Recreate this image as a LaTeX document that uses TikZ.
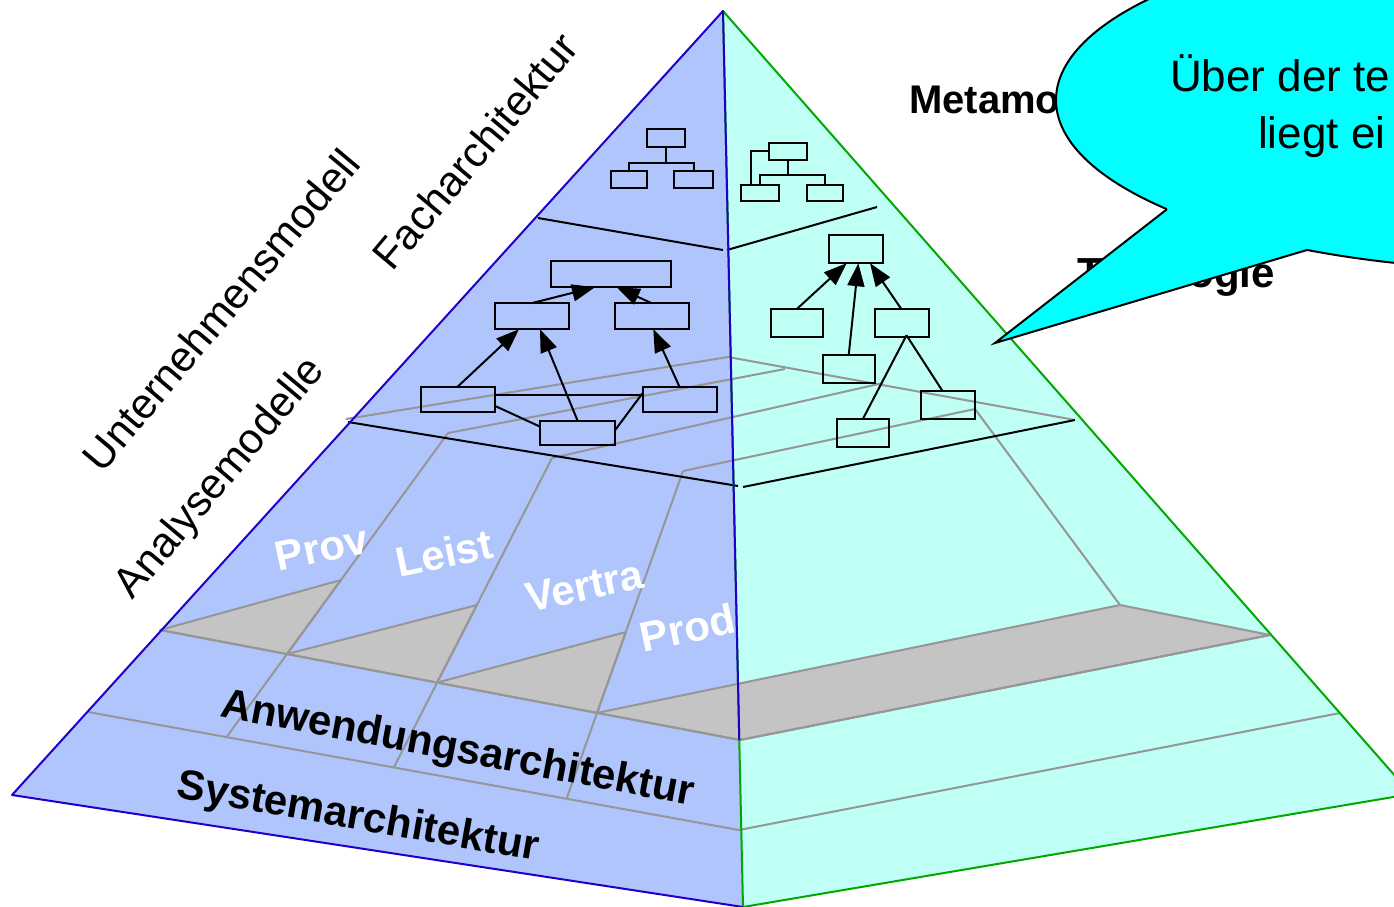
\documentclass[tikz,border=0pt]{standalone}
\usepackage{fontspec}
\setmainfont{Liberation Sans}
\usetikzlibrary{arrows.meta,calc}
\definecolor{leftface}{RGB}{176,197,252}
\definecolor{rightface}{RGB}{191,255,246}
\definecolor{edgeblue}{RGB}{32,0,200}
\definecolor{edgegreen}{RGB}{0,168,0}
\definecolor{layergray}{RGB}{150,150,150}
\definecolor{slabgray}{RGB}{196,196,196}
\definecolor{callcyan}{RGB}{0,255,255}
\tikzset{
  box/.style={draw=black,line width=2pt,inner sep=0pt,outer sep=0pt},
  arr/.style={line width=2pt,-{Triangle[length=23pt,width=17pt]}},
  plain/.style={line width=2pt},
  grayline/.style={draw=layergray,line width=2pt},
  blackline/.style={draw=black,line width=2pt},
  slab/.style={fill=slabgray,draw=layergray,line width=2pt,line join=round},
  sidelabel/.style={font=\fontsize{42.5}{50}\selectfont,inner sep=0pt,rotate=50},
  boldlabel/.style={font=\bfseries\fontsize{42}{48}\selectfont,inner sep=0pt},
  collabel/.style={font=\bfseries\fontsize{42}{48}\selectfont,text=white,inner sep=0pt,rotate=12,anchor=base},
  calltext/.style={font=\fontsize{44}{50}\selectfont,inner sep=0pt,anchor=base west},
}
\begin{document}
\begin{tikzpicture}[x=1pt,y=-1pt]
\useasboundingbox (0,0) rectangle (1394,907);
\clip (0,0) rectangle (1394,907);
\fill[white] (0,0) rectangle (1394,907);
% pyramid corners
\coordinate (T) at (723,11);
\coordinate (L) at (12,795);
\coordinate (M) at (743,907);
\coordinate (R) at (1411,794);
\fill[leftface] (T) -- (L) -- (M) -- cycle;
\fill[rightface] (T) -- (M) -- (R) -- cycle;
% Anwendungs slab tops
\filldraw[slab] (160,630) -- (341,580) -- (287,654) -- cycle;
\filldraw[slab] (287,654) -- (477,605) -- (437,682.6) -- cycle;
\filldraw[slab] (437,682.6) -- (626,632) -- (597,712.9) -- cycle;
\filldraw[slab] (597,712.9) -- (1120,605) -- (1270,635) -- (740,740) -- cycle;
% analysis plane and columns
\draw[grayline] (346,419) -- (728,357) -- (1075,420);
\draw[grayline] (448,433) -- (785,369);
\draw[grayline] (552,458) -- (883,383);
\draw[grayline] (683,471) -- (975,409) -- (1120,605);
\draw[grayline] (448,433) -- (226.4,737.2);
\draw[grayline] (552,458) -- (393.8,767.4);
\draw[grayline] (683,471) -- (566.5,798.8);
\draw[grayline] (160,630) -- (740,740) -- (1270,635);
\draw[grayline] (88,712) -- (739,830) -- (1340,713);
% black layer lines
\draw[blackline] (538,218) -- (723,250);
\draw[blackline] (727,250) -- (877,207);
\draw[blackline] (348,422) -- (738,486);
\draw[blackline] (743,487) -- (1075,420);
% edges
\draw[edgegreen,line width=2pt,line join=round] (T) -- (R) -- (M) -- cycle;
\draw[edgeblue,line width=2pt,line join=round] (M) -- (L) -- (T) -- ($(T)!0.8136!(M)$);
% Facharchitektur diagrams
\node[box,minimum width=38pt,minimum height=18pt] (fl0) at (666,138) {};
\node[box,minimum width=36pt,minimum height=17pt] (fl1) at (628.5,179) {};
\node[box,minimum width=39pt,minimum height=17pt] (fl2) at (693.7,179) {};
\coordinate (flj) at (666,162.7);
\draw[plain] (fl0.south) -- (flj);
\draw[plain] (fl1.north) |- (flj) -| (fl2.north);
\node[box,minimum width=38pt,minimum height=17pt] (fr0) at (787.5,151) {};
\node[box,minimum width=38pt,minimum height=16pt] (fr1) at (760,193) {};
\node[box,minimum width=36pt,minimum height=16pt] (fr2) at (824.7,193) {};
\coordinate (frj) at (787.5,175);
\draw[plain] (fr0.south) -- (frj);
\draw[plain] (fr1.north) |- (frj) -| (fr2.north);
\draw[plain] (fr0.west) -| ($(fr1.north west)+(10,0)$);
% Analysemodelle left diagram
\node[box,minimum width=120pt,minimum height=26pt] (a0) at (610.7,274.2) {};
\node[box,minimum width=74pt,minimum height=26pt] (a1) at (531.5,316.2) {};
\node[box,minimum width=74pt,minimum height=26pt] (a2) at (651.7,316.2) {};
\node[box,minimum width=74pt,minimum height=25pt] (a3) at (457.5,399.3) {};
\node[box,minimum width=74pt,minimum height=25pt] (a4) at (679.5,399.3) {};
\node[box,minimum width=75pt,minimum height=24pt] (a5) at (577.7,433) {};
\draw[arr] (a1.north) -- ($(a0.south)+(-15.7,0)$);
\draw[arr] (a2.north) -- ($(a0.south)+(6,0)$);
\draw[arr] (a3.north) -- ($(a1.south)+(-12.5,0)$);
\draw[arr] (a5.north) -- ($(a1.south)+(8.5,0)$);
\draw[arr] (a4.north) -- ($(a2.south)+(1.6,0)$);
\draw[plain] ($(a3.east)+(0,-4)$) -- ($(a4.west)+(0,-4)$);
\draw[plain] ($(a3.east)+(0,6.4)$) -- ($(a5.west)+(0,-6.3)$);
\draw[plain] ($(a5.east)+(0,-3)$) -- ($(a4.west)+(0,-6)$);
% Analysemodelle right diagram
\node[box,minimum width=54pt,minimum height=28pt] (b0) at (855.5,249.2) {};
\node[box,minimum width=52pt,minimum height=28pt] (b1) at (796.5,323.3) {};
\node[box,minimum width=54pt,minimum height=28pt] (b2) at (901.5,323.3) {};
\node[box,minimum width=52pt,minimum height=28pt] (b3) at (848.7,369.2) {};
\node[box,minimum width=52pt,minimum height=28pt] (b4) at (862.7,433.3) {};
\node[box,minimum width=54pt,minimum height=28pt] (b5) at (947.7,405.3) {};
\draw[arr] (b1.north) -- ($(b0.south)+(-8.8,0)$);
\draw[arr] (b3.north) -- ($(b0.south)+(2.8,0)$);
\draw[arr] (b2.north) -- ($(b0.south)+(14.5,0)$);
\coordinate (bj) at ($(b2.south)+(5,-2)$);
\draw[plain] (bj) -- (b4.north);
\draw[plain] (bj) -- ($(b5.north)+(-5,0)$);
% side labels
\node[sidelabel] (unt) at (221,310) {Unternehmensmodell};
\node[sidelabel] (fach) at (475,151) {Facharchitektur};
\node[sidelabel] (ana) at (221,479) {Analysemodelle};
% column labels
\node[collabel] (prov) at (324.5,562) {Prov};
\node[collabel] (leist) at (447.5,567.5) {Leist};
\node[collabel] (vertra) at (587.5,600) {Vertra};
\node[collabel] (prod) at (690.5,642.5) {Prod};
% layer labels
\node[boldlabel,rotate=-10.7,anchor=base] (anw) at (455.5,761) {Anwendungsarchitektur};
\node[boldlabel,rotate=-10,anchor=base] (sys) at (356,829) {Systemarchitektur};
% right side labels (partly hidden by the callout)
\node[boldlabel,font=\bfseries\fontsize{40}{46}\selectfont,anchor=base west] (meta) at (909,113) {Metamodell};
\node[boldlabel,font=\bfseries\fontsize{42}{46}\selectfont,anchor=base west] (topo) at (1077,287) {Topologie};
% callout
\fill[callcyan] (1531,100) ellipse [x radius=475pt,y radius=170pt];
\draw[line width=2pt] (1531,100) ellipse [x radius=475pt,y radius=170pt];
\fill[callcyan] (1167,209.2) -- (995,343) -- (1307,250) -- (1307,190) -- (1167,190) -- cycle;
\draw[line width=2pt,line join=miter] (1167,209.2) -- (995,343) -- (1307,250);
\node[calltext] (c1) at (1170,92) {Über der te};
\node[calltext] (c2) at (1258,148) {liegt ei};
\end{tikzpicture}
\end{document}
